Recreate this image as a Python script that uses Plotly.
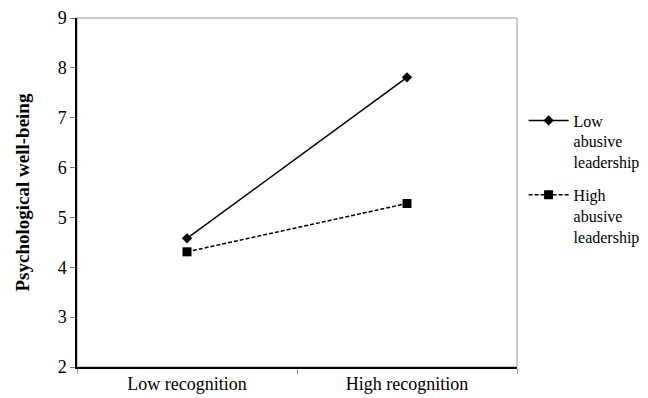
import plotly.graph_objects as go

categories = ["Low recognition", "High recognition"]
low_abusive = [4.58, 7.81]
high_abusive = [4.31, 5.28]
series_names = ["Low<br>abusive<br>leadership", "High<br>abusive<br>leadership"]
y_title = "Psychological well-being"

font = "Liberation Serif"

fig = go.Figure()
fig.add_trace(go.Scatter(
    x=categories, y=low_abusive, name=series_names[0], mode="lines+markers",
    line=dict(color="black", width=1.5),
    marker=dict(symbol="diamond", size=8, color="black"),
    legendgroup="a"))
fig.add_trace(go.Scatter(
    x=categories, y=high_abusive, name=series_names[1], mode="lines+markers",
    line=dict(color="black", width=1.5, dash="4px,2px"),
    marker=dict(symbol="square", size=9, color="black"),
    legendgroup="b"))

# page body has an 8px margin, so the figure is drawn 8px right/down
fig.update_layout(
    width=640, height=390,
    margin=dict(l=69, r=131, t=10, b=31, autoexpand=False),
    paper_bgcolor="white", plot_bgcolor="white",
    font=dict(family=font, color="black", size=18),
    showlegend=True,
    legend=dict(x=1.015, xanchor="left", y=0.755, yanchor="top", valign="top",
                tracegroupgap=9, font=dict(size=16, family=font),
                itemwidth=40, bgcolor="rgba(0,0,0,0)"),
    shapes=[dict(type="rect", xref="paper", yref="paper", x0=0, x1=1, y0=0, y1=1,
                 line=dict(color="#999999", width=1), layer="below")],
    annotations=[dict(text="<b>" + y_title + "</b>", xref="paper", yref="paper",
                      x=0, y=0.5, xshift=-55, xanchor="center", yanchor="middle",
                      textangle=-90, showarrow=False,
                      font=dict(size=19, family=font, color="black"))],
)
fig.update_xaxes(
    type="category", range=[-0.5, 1.5], tickson="boundaries",
    ticks="outside", ticklen=5, tickcolor="#999999", automargin=False,
    showline=True, linecolor="black", linewidth=1.5,
    showgrid=False, zeroline=False, tickfont=dict(size=18))
fig.update_yaxes(
    range=[2, 9], dtick=1, ticks="outside", ticklen=5, tickcolor="#777777",
    automargin=False,
    showline=True, linecolor="black", linewidth=1.5,
    showgrid=False, zeroline=False, tickfont=dict(size=18))

fig.write_html("out.html")
